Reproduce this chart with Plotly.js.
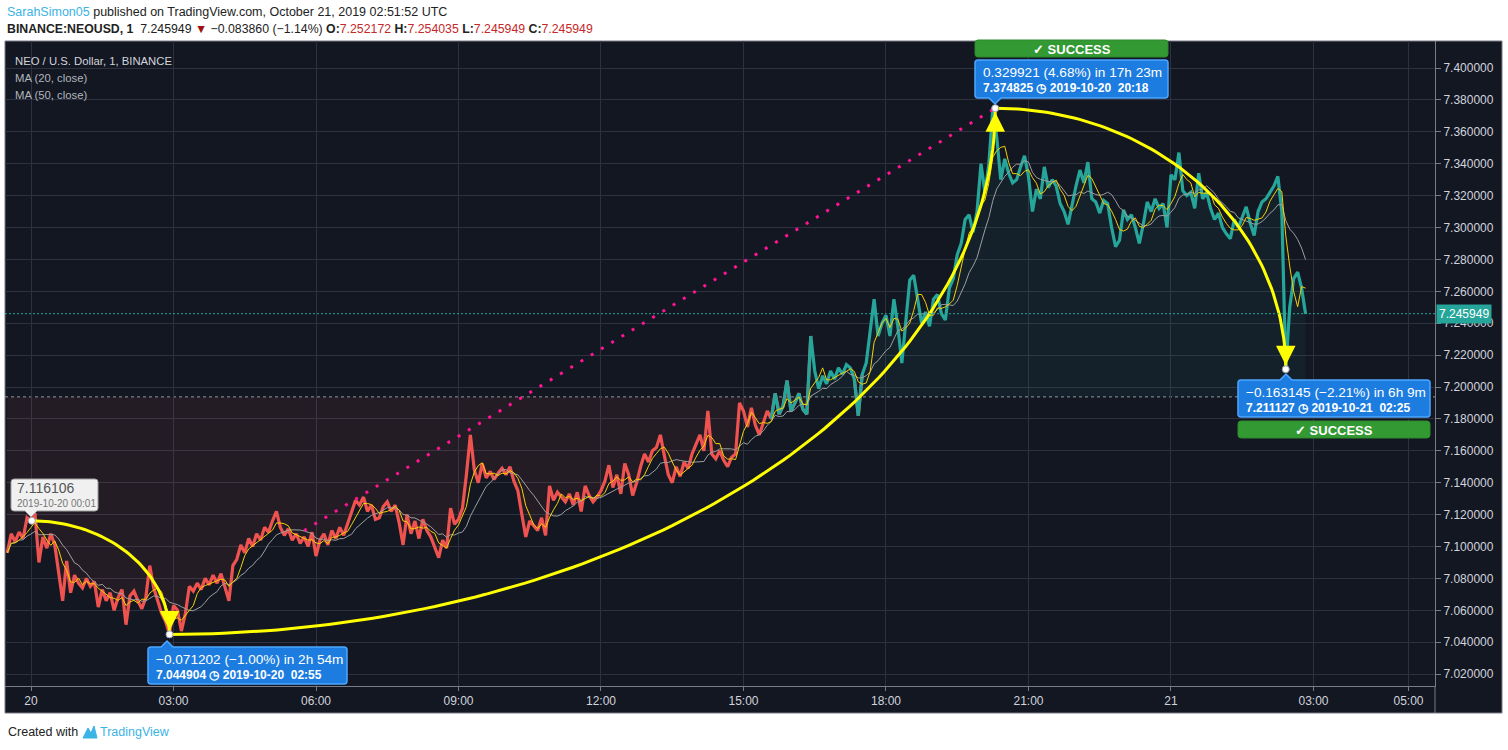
<!DOCTYPE html>
<html><head><meta charset="utf-8">
<script src="https://cdn.plot.ly/plotly-3.0.1.min.js"></script>
<style>html,body{margin:0;padding:0;background:#fff;}#chart{width:1508px;height:750px;}</style>
</head><body><div id="chart"></div>
<script>
// ---------- DATA ----------
const startTime = '2019-10-19 23:30';
const stepMinutes = 5;
const closePrices = [
7.096,7.108,7.103,7.109,7.105,7.118,7.116,7.121,7.090,7.106,
7.099,7.108,7.101,7.083,7.066,7.091,7.071,7.082,7.077,7.074,
7.080,7.075,7.078,7.062,7.073,7.066,7.071,7.060,7.068,7.073,
7.051,7.069,7.072,7.066,7.061,7.068,7.088,7.074,7.066,7.058,
7.053,7.045,7.063,7.060,7.047,7.058,7.075,7.072,7.077,7.073,
7.080,7.076,7.082,7.077,7.083,7.074,7.066,7.088,7.092,7.101,
7.096,7.105,7.100,7.108,7.104,7.112,7.109,7.116,7.122,7.112,
7.107,7.111,7.104,7.108,7.102,7.106,7.100,7.109,7.094,7.104,
7.108,7.101,7.110,7.105,7.112,7.107,7.114,7.122,7.129,7.126,
7.131,7.122,7.126,7.117,7.118,7.125,7.128,7.122,7.126,7.115,
7.101,7.120,7.108,7.116,7.105,7.117,7.110,7.106,7.100,7.093,
7.104,7.099,7.124,7.114,7.117,7.124,7.145,7.170,7.148,7.140,
7.152,7.143,7.147,7.142,7.146,7.149,7.145,7.150,7.141,7.135,
7.120,7.106,7.116,7.113,7.110,7.118,7.107,7.138,7.129,7.134,
7.131,7.128,7.133,7.126,7.134,7.122,7.138,7.132,7.128,7.131,
7.135,7.141,7.151,7.137,7.145,7.133,7.152,7.145,7.132,7.140,
7.150,7.158,7.153,7.160,7.162,7.170,7.157,7.145,7.140,7.150,
7.144,7.153,7.149,7.158,7.164,7.170,7.160,7.185,7.158,7.155,
7.160,7.154,7.150,7.156,7.158,7.190,7.185,7.175,7.187,7.176,
7.170,7.178,7.185,7.180,7.196,7.183,7.188,7.204,7.185,7.190,
7.196,7.186,7.183,7.232,7.210,7.199,7.207,7.202,7.210,7.205,
7.212,7.208,7.214,7.212,7.205,7.182,7.208,7.215,7.234,7.255,
7.232,7.240,7.245,7.232,7.255,7.238,7.215,7.240,7.267,7.270,
7.255,7.240,7.247,7.238,7.255,7.258,7.246,7.242,7.262,7.268,
7.283,7.290,7.305,7.308,7.297,7.310,7.340,7.322,7.340,7.374825,
7.356,7.330,7.343,7.334,7.328,7.330,7.338,7.345,7.332,7.310,
7.324,7.318,7.338,7.325,7.330,7.326,7.315,7.310,7.302,7.315,
7.326,7.336,7.328,7.341,7.318,7.316,7.309,7.317,7.315,7.300,
7.288,7.292,7.311,7.305,7.308,7.300,7.290,7.302,7.316,7.310,
7.318,7.312,7.315,7.300,7.333,7.330,7.347,7.323,7.320,7.322,
7.312,7.334,7.318,7.322,7.312,7.305,7.309,7.300,7.296,7.293,
7.305,7.300,7.307,7.313,7.303,7.295,7.310,7.316,7.318,7.322,
7.326,7.332,7.310,7.211127,7.250,7.268,7.272,7.262,7.245949
];
const baseLevel = 7.1938;
const lastPrice = 7.245949;
const maShortLen = 4;   // 20 one-minute bars at 5-minute sampling
const maLongLen = 10;   // 50 one-minute bars at 5-minute sampling
const xTickVals = ['2019-10-20 00:00','2019-10-20 03:00','2019-10-20 06:00','2019-10-20 09:00','2019-10-20 12:00','2019-10-20 15:00','2019-10-20 18:00','2019-10-20 21:00','2019-10-21 00:00','2019-10-21 03:00','2019-10-21 05:00'];
const xTickText = ['20','03:00','06:00','09:00','12:00','15:00','18:00','21:00','21','03:00','05:00'];
const yTickVals = [7.02,7.04,7.06,7.08,7.10,7.12,7.14,7.16,7.18,7.20,7.22,7.24,7.26,7.28,7.30,7.32,7.34,7.36,7.38,7.40];
const xRange = ['2019-10-19 23:27:09','2019-10-21 05:33:30'];
const yRange = [7.01254, 7.41693];
const pointStart = {t:'2019-10-20 00:01', p:7.116106};
const pointLow   = {t:'2019-10-20 02:55', p:7.044904};
const pointHigh  = {t:'2019-10-20 20:18', p:7.374825};
const pointEnd   = {t:'2019-10-21 02:25', p:7.211127};
const dottedFrom = {t:'2019-10-20 05:45', p:7.1100};
const S = '\u00a0';
const rangeTexts = [
  ['\u22120.071202 (\u22121.00%) in 2h 54m', '7.044904'+S+'\u25F7'+S+'2019-10-20'+S+S+'02:55'],
  ['0.329921 (4.68%) in 17h 23m', '7.374825'+S+'\u25F7'+S+'2019-10-20'+S+S+'20:18'],
  ['\u22120.163145 (\u22122.21%) in 6h 9m', '7.211127'+S+'\u25F7'+S+'2019-10-21'+S+S+'02:25']
];

// ---------- HELPERS ----------
function toMs(s){const m=s.match(/(\d+)-(\d+)-(\d+) (\d+):(\d+)(?::(\d+))?/);return Date.UTC(+m[1],+m[2]-1,+m[3],+m[4],+m[5],+(m[6]||0));}
function pad(n){return (n<10?'0':'')+n;}
function msToStr(ms){const d=new Date(ms);return d.getUTCFullYear()+'-'+pad(d.getUTCMonth()+1)+'-'+pad(d.getUTCDate())+' '+pad(d.getUTCHours())+':'+pad(d.getUTCMinutes())+':'+pad(d.getUTCSeconds());}
const t0 = toMs(startTime);
const times = closePrices.map((_,i)=>msToStr(t0+i*stepMinutes*60000));
function movingAvg(arr,w){return arr.map((_,i)=>{const s=Math.max(0,i-w+1);let sum=0;for(let j=s;j<=i;j++)sum+=arr[j];return sum/(i-s+1);});}
const maShort = movingAvg(closePrices, maShortLen);
const maLong = movingAvg(closePrices, maLongLen);
const baseArr = closePrices.map(()=>baseLevel);
const upFill = closePrices.map(v=>Math.max(v,baseLevel));
const downFill = closePrices.map(v=>Math.min(v,baseLevel));
const n = closePrices.length;
const above = closePrices.map(v=>v>=baseLevel);
const tealLine = closePrices.map((v,i)=> (above[i]||(i>0&&above[i-1])||(i<n-1&&above[i+1]))?v:null);
const redLine = closePrices.map((v,i)=> (!above[i]||(i>0&&!above[i-1])||(i<n-1&&!above[i+1]))?v:null);
function arc(A,B,steps){const ta=toMs(A.t),tb=toMs(B.t);const xs=[],ys=[];for(let k=0;k<=steps;k++){const th=k/steps*Math.PI/2;xs.push(msToStr(ta+(tb-ta)*Math.sin(th)));ys.push(B.p+(A.p-B.p)*Math.cos(th));}return {xs,ys};}

// pixel -> paper helpers for overlay layout
const PL=5, PR=1435, PT=41, PB=686;
const X=px=>(px-PL)/(PR-PL);
const Y=py=>(PB-py)/(PB-PT);
function roundRect(x0,y0,x1,y1,r,notch){
  let p='M'+X(x0+r)+','+Y(y0);
  if(notch&&notch.side==='top'){p+=' L'+X(notch.x-6)+','+Y(y0)+' L'+X(notch.x)+','+Y(y0-notch.h)+' L'+X(notch.x+6)+','+Y(y0);}
  p+=' L'+X(x1-r)+','+Y(y0)+' Q'+X(x1)+','+Y(y0)+' '+X(x1)+','+Y(y0+r);
  p+=' L'+X(x1)+','+Y(y1-r)+' Q'+X(x1)+','+Y(y1)+' '+X(x1-r)+','+Y(y1);
  if(notch&&notch.side==='bottom'){p+=' L'+X(notch.x+6)+','+Y(y1)+' L'+X(notch.x)+','+Y(y1+notch.h)+' L'+X(notch.x-6)+','+Y(y1);}
  p+=' L'+X(x0+r)+','+Y(y1)+' Q'+X(x0)+','+Y(y1)+' '+X(x0)+','+Y(y1-r);
  p+=' L'+X(x0)+','+Y(y0+r)+' Q'+X(x0)+','+Y(y0)+' '+X(x0+r)+','+Y(y0)+' Z';
  return p;
}

const arc1 = arc(pointStart, pointLow, 60);
const arc2 = arc(pointLow, pointHigh, 120);
const arc3 = arc(pointHigh, pointEnd, 80);

const TEAL='#26a69a', RED='#ef5350';
const traces = [
  {x:times,y:baseArr,mode:'lines',line:{width:0},hoverinfo:'skip',showlegend:false},
  {x:times,y:upFill,mode:'lines',line:{width:0},fill:'tonexty',fillcolor:'rgba(38,166,154,0.07)',hoverinfo:'skip',showlegend:false},
  {x:times,y:baseArr,mode:'lines',line:{width:0},hoverinfo:'skip',showlegend:false},
  {x:times,y:downFill,mode:'lines',line:{width:0},fill:'tonexty',fillcolor:'rgba(239,83,80,0.08)',hoverinfo:'skip',showlegend:false},
  {x:times,y:redLine,mode:'lines',line:{color:RED,width:3.2},connectgaps:false,showlegend:false},
  {x:times,y:tealLine,mode:'lines',line:{color:TEAL,width:3.2},connectgaps:false,showlegend:false},
  {x:times,y:maLong,mode:'lines',line:{color:'#9e9e9e',width:1},showlegend:false},
  {x:times,y:maShort,mode:'lines',line:{color:'#f5d000',width:1},showlegend:false},
  {x:[dottedFrom.t,pointHigh.t],y:[dottedFrom.p,pointHigh.p],mode:'lines',line:{color:'#ff1493',width:3,dash:'3px,9px'},showlegend:false},
  {x:arc1.xs,y:arc1.ys,mode:'lines',line:{color:'#ffff00',width:3},showlegend:false},
  {x:arc2.xs,y:arc2.ys,mode:'lines',line:{color:'#ffff00',width:3},showlegend:false},
  {x:arc3.xs,y:arc3.ys,mode:'lines',line:{color:'#ffff00',width:3},showlegend:false},
  {x:[pointStart.t,pointLow.t,pointHigh.t,pointEnd.t],y:[pointStart.p,pointLow.p,pointHigh.p,pointEnd.p],mode:'markers',marker:{color:'#ffffff',size:7,line:{color:'#9aa0aa',width:1}},showlegend:false}
];

const shapes = [
  {type:'rect',xref:'paper',yref:'paper',x0:X(5),x1:X(1502),y0:Y(41),y1:Y(713),fillcolor:'#131722',line:{color:'#7a7d86',width:1},layer:'below'},
  {type:'line',xref:'paper',yref:'paper',x0:X(1435),x1:X(1435),y0:Y(686),y1:Y(713),line:{color:'#787b86',width:1}},
  {type:'line',xref:'paper',yref:'y',x0:0,x1:1,y0:baseLevel,y1:baseLevel,line:{color:'#9598a1',width:1,dash:'3px,3px'},layer:'below'},
  {type:'line',xref:'paper',yref:'y',x0:0,x1:1,y0:lastPrice,y1:lastPrice,line:{color:TEAL,width:1,dash:'2px,2px'}},
  {type:'path',xref:'paper',yref:'paper',path:roundRect(11,479,98,511,3,{side:'bottom',x:31,h:6}),fillcolor:'#f0f0f0',line:{color:'#9e9e9e',width:1}},
  {type:'path',xref:'paper',yref:'paper',path:roundRect(148,647,347,684,3,{side:'top',x:167,h:6}),fillcolor:'#1c7ce0',line:{color:'#4da6ff',width:1.5}},
  {type:'path',xref:'paper',yref:'paper',path:roundRect(975,60,1168,98,3,{side:'bottom',x:995,h:6}),fillcolor:'#1c7ce0',line:{color:'#4da6ff',width:1.5}},
  {type:'path',xref:'paper',yref:'paper',path:roundRect(975,40,1168,57,3),fillcolor:'#339933',line:{color:'#2d8a2d',width:1}},
  {type:'path',xref:'paper',yref:'paper',path:roundRect(1238,380,1430,417,3,{side:'top',x:1286,h:6}),fillcolor:'#1c7ce0',line:{color:'#4da6ff',width:1.5}},
  {type:'path',xref:'paper',yref:'paper',path:roundRect(1238,421,1430,438,3),fillcolor:'#339933',line:{color:'#2d8a2d',width:1}}
];

const F='Liberation Sans, Arial, sans-serif';
function txt(px,py,text,size,color,anchor){return {xref:'paper',yref:'paper',x:X(px),y:Y(py),text:text,showarrow:false,xanchor:anchor||'left',yanchor:'middle',font:{family:F,size:size,color:color}};}
const annotations = [
  txt(5,12,'<span style="color:#3bb3e4">SarahSimon05</span> published on TradingView.com, October 21, 2019 02:51:52 UTC',12.5,'#222'),
  txt(5,29,'<b>BINANCE:NEOUSD, 1</b>  7.245949 <span style="color:#a01010">\u25BC</span> \u22120.083860 (\u22121.14%) <b>O:</b><span style="color:#c62828">7.252172</span> <b>H:</b><span style="color:#c62828">7.254035</span> <b>L:</b><span style="color:#c62828">7.245949</span> <b>C:</b><span style="color:#c62828">7.245949</span>',12.3,'#222'),
  txt(13,61,'NEO / U.S. Dollar, 1, BINANCE',11.3,'#d1d4dc'),
  txt(13,78,'MA (20, close)',11.3,'#b2b5be'),
  txt(13,95,'MA (50, close)',11.3,'#b2b5be'),
  txt(15,488,'7.116106',14,'#555'),
  txt(15,503,'2019-10-20 00:01',10,'#777'),
  txt(154,659,rangeTexts[0][0],13.6,'#ffffff'),
  txt(154,675,'<b>'+rangeTexts[0][1]+'</b>',12,'#ffffff'),
  txt(981,72,rangeTexts[1][0],13.6,'#ffffff'),
  txt(981,88,'<b>'+rangeTexts[1][1]+'</b>',12,'#ffffff'),
  txt(1244,392,rangeTexts[2][0],13.6,'#ffffff'),
  txt(1244,408,'<b>'+rangeTexts[2][1]+'</b>',12,'#ffffff'),
  txt(1071.5,49,'<b>\u2713 SUCCESS</b>',13,'#ffffff','center'),
  txt(1334,430,'<b>\u2713 SUCCESS</b>',13,'#ffffff','center'),
  {xref:'paper',yref:'paper',x:X(1436),y:Y(314),text:'7.245949',showarrow:false,xanchor:'left',yanchor:'middle',bgcolor:TEAL,borderpad:2,font:{family:F,size:12,color:'#ffffff'}},
  txt(6,732,'Created with',12.5,'#222'),
  txt(98,732,'TradingView',12.5,'#3bb3e4'),
  {x:pointLow.t,y:pointLow.p,xref:'x',yref:'y',ax:0,ay:-18,text:'',showarrow:true,arrowhead:2,arrowsize:1.3,arrowwidth:3,arrowcolor:'#ffff00',standoff:4},
  {x:pointHigh.t,y:pointHigh.p,xref:'x',yref:'y',ax:0,ay:18,text:'',showarrow:true,arrowhead:2,arrowsize:1.3,arrowwidth:3,arrowcolor:'#ffff00',standoff:4},
  {x:pointEnd.t,y:pointEnd.p,xref:'x',yref:'y',ax:0,ay:-18,text:'',showarrow:true,arrowhead:2,arrowsize:1.3,arrowwidth:3,arrowcolor:'#ffff00',standoff:4}
];
shapes.push({type:'path',xref:'paper',yref:'paper',path:'M'+X(83)+','+Y(738)+' L'+X(88)+','+Y(728)+' L'+X(91)+','+Y(733)+' L'+X(94)+','+Y(726)+' L'+X(97)+','+Y(738)+' Z',fillcolor:'#3bb3e4',line:{color:'#3bb3e4',width:1}});

const layout = {
  width:1508,height:750,
  margin:{l:PL,r:1508-PR,t:PT,b:750-PB,pad:0},
  paper_bgcolor:'#ffffff',plot_bgcolor:'#131722',
  showlegend:false,hovermode:false,
  xaxis:{type:'date',range:xRange,tickmode:'array',tickvals:xTickVals,ticktext:xTickText,
    showgrid:true,gridcolor:'#2e3240',gridwidth:1,showline:true,linecolor:'#787b86',linewidth:1,
    ticks:'outside',ticklen:4,tickcolor:'#787b86',zeroline:false,
    tickfont:{family:F,size:12,color:'#d1d4dc'}},
  yaxis:{side:'right',range:yRange,tickmode:'array',tickvals:yTickVals,tickformat:'.6f',
    showgrid:true,gridcolor:'#2e3240',gridwidth:1,showline:true,linecolor:'#787b86',linewidth:1,mirror:false,
    ticks:'outside',ticklen:5,tickcolor:'#787b86',zeroline:false,
    tickfont:{family:F,size:12,color:'#d1d4dc'}},
  shapes:shapes,annotations:annotations
};
Plotly.newPlot('chart',traces,layout,{displayModeBar:false,staticPlot:true});
</script></body></html>
